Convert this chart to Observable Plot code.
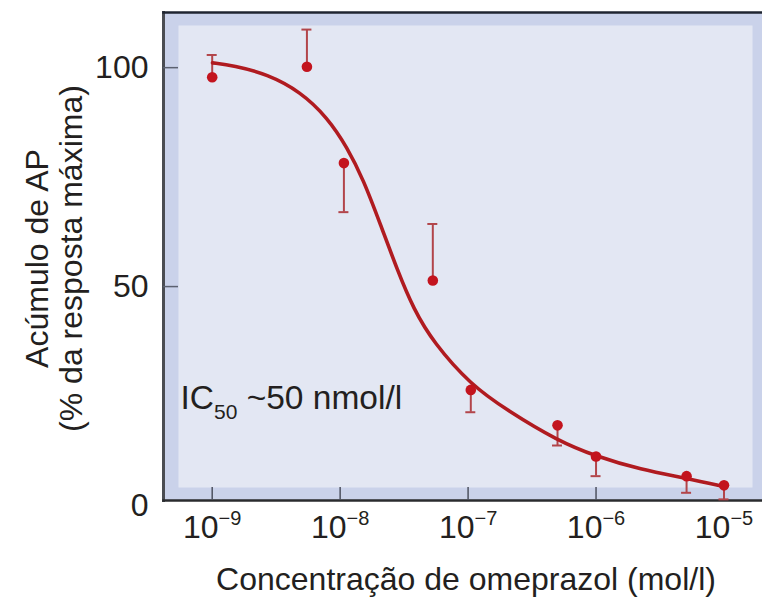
<!DOCTYPE html>
<html>
<head>
<meta charset="utf-8">
<script src="https://cdn.jsdelivr.net/npm/d3@7"></script>
<script src="https://cdn.jsdelivr.net/npm/@observablehq/plot@0.6"></script>
<style>
  html, body { margin: 0; padding: 0; background: #ffffff; }
  #chart svg { display: block; }
</style>
</head>
<body>
<div id="chart"></div>
<script>
// ---- data ----
const concentrations = [1e-9, 5.5e-9, 1.07e-8, 5.3e-8, 1.05e-7, 5.0e-7, 1.0e-6, 5.1e-6, 1.0e-5];
const responses      = [97.8, 100.2, 78.2, 51.4, 26.4, 18.3, 11.2, 6.7, 4.6];
const errorEnds      = [102.9, 108.7, 67.0, 64.3, 21.3, 13.7, 6.7, 2.9, 1.4];

const curveLogConc  = [-8.998, -8.834, -8.568, -8.310, -8.099, -7.943, -7.818, -7.685, -7.552, -7.427, -7.270, -6.981, -6.692, -6.301, -5.997, -5.653, -5.294, -4.997];
const curveResponse = [101.1, 100.5, 98.5, 94.5, 88.6, 81.7, 74.4, 64.2, 53.7, 44.9, 37.2, 27.6, 21.7, 14.8, 11.2, 8.2, 6.2, 4.3];

const xTicks = [1e-9, 1e-8, 1e-7, 1e-6, 1e-5];
const yTicks = [0, 50, 100];
const xTitle = "Concentração de omeprazol (mol/l)";
const yTitle = ["Acúmulo de AP", "(% da resposta máxima)"];
const annotation = ["IC", "50", " ~50 nmol/l"];

// ---- tables built from the arrays ----
const points = concentrations.map((c, i) => ({conc: c, value: responses[i], err: errorEnds[i]}));
const curve = curveLogConc.map((l, i) => ({conc: 10 ** l, value: curveResponse[i]}));

const FONT = "'Liberation Sans', Arial, Helvetica, sans-serif";
const TEXT = "#231f20";

const fmtX = d => "10^" + String(Math.round(Math.log10(d))).replace("-", "\u2212");

const svg = Plot.plot({
  width: 762,
  height: 598,
  marginLeft: 163,
  marginRight: 0,
  marginTop: 12,
  marginBottom: 98,
  style: {fontFamily: FONT, color: TEXT, background: "#ffffff", overflow: "visible"},
  x: {type: "log", domain: [10 ** -9.3806, 10 ** -4.699]},
  y: {domain: [1.14, 112.6]},
  marks: [
    Plot.frame({fill: "#cad2ea", stroke: null}),
    Plot.frame({fill: "#e3e7f3", stroke: null, insetLeft: 15, insetRight: 10, insetTop: 13, insetBottom: 13}),
    Plot.frame({anchor: "left", stroke: "#4a4c52", strokeWidth: 3}),
    Plot.frame({anchor: "top", stroke: "#1e2430", strokeWidth: 2.5}),
    Plot.frame({anchor: "bottom", stroke: "#2a2b2e", strokeWidth: 2.5}),
    // y tick labels (no tick lines)
    Plot.axisY({ticks: yTicks, tickSize: 0, tickPadding: 15, fontSize: 32, tickFormat: d => String(d), label: null, fill: TEXT}),
    // y tick lines pointing inward (inside the frame only)
    Plot.axisY({ticks: yTicks.filter(t => t > 0), tickSize: -15, tickPadding: 0, tickFormat: () => "", label: null, stroke: "#5b6170", strokeWidth: 1.5}),
    Plot.axisX({ticks: xTicks, tickSize: -13, tickPadding: 28, fontSize: 32, stroke: "#4d5160", strokeWidth: 1.5, tickFormat: fmtX, label: null, fill: TEXT}),
    // error bars
    Plot.ruleX(points, {x: "conc", y1: "value", y2: "err", stroke: "#b2454a", strokeWidth: 2}),
    Plot.ruleY(points, {x1: "conc", x2: "conc", y: "err", stroke: "#b2454a", strokeWidth: 2, insetLeft: -5, insetRight: -5}),
    // fitted curve
    Plot.line(curve, {x: "conc", y: "value", stroke: "#b01b20", strokeWidth: 3.6, curve: "basis"}),
    // data points
    Plot.dot(points, {x: "conc", y: "value", r: 5.3, fill: "#c3141e", stroke: null}),
    // titles and annotation
    Plot.text([xTitle], {text: d => d, frameAnchor: "bottom", lineAnchor: "bottom", dx: 3, dy: 89, fontSize: 32, fill: TEXT}),
    Plot.text([yTitle.join("\n")], {text: d => d, frameAnchor: "left", textAnchor: "middle", rotate: -90, lineAnchor: "bottom", lineHeight: 1.04, dx: -82, dy: 2, fontSize: 32, fill: TEXT}),
    Plot.text([annotation.join("")], {text: d => d, frameAnchor: "bottom-left", textAnchor: "start", lineAnchor: "bottom", dx: 17, dy: -92, fontSize: 33.5, fill: TEXT})
  ]
});

// superscript exponents on x tick labels
d3.select(svg).selectAll('g[aria-label="x-axis tick label"] text').each(function () {
  const parts = this.textContent.split("^");
  const t = d3.select(this);
  t.text(null);
  t.append("tspan").text(parts[0]);
  t.append("tspan").attr("dy", -13).attr("font-size", 20).text(parts[1]);
});

// subscript in the IC50 annotation
d3.select(svg).selectAll("text").filter(function () {
  return this.textContent === annotation.join("");
}).each(function () {
  const t = d3.select(this);
  t.text(null);
  t.append("tspan").text(annotation[0]);
  t.append("tspan").attr("dy", 10).attr("font-size", 21).text(annotation[1]);
  t.append("tspan").attr("dy", -10).text(annotation[2]);
});

document.getElementById("chart").appendChild(svg);
</script>
</body>
</html>
